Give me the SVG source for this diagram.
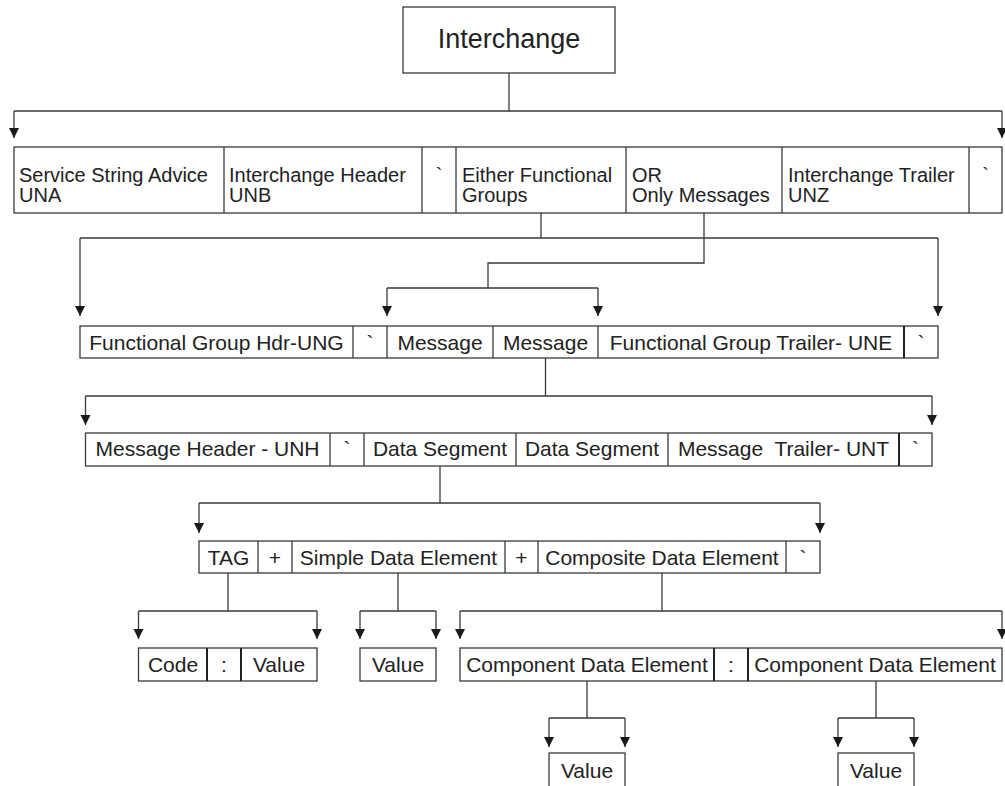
<svg xmlns="http://www.w3.org/2000/svg" width="1005" height="786" viewBox="0 0 1005 786">
<style>
  .box{fill:#fff;stroke:#3a3a3a;stroke-width:1.3}
  .div{stroke:#3a3a3a;stroke-width:1.3}
  .bold{stroke:#222;stroke-width:2}
  .t{font-family:"Liberation Sans",Arial,sans-serif;font-size:21px;fill:#222}
  .r1{font-size:20px}
  .m{text-anchor:middle}
  .big{font-size:27px}
  .c{fill:none;stroke:#3a3a3a;stroke-width:1.3}
  .a{fill:none;stroke:#3a3a3a;stroke-width:1.3;marker-end:url(#arr)}
</style>
<defs>
  <marker id="arr" viewBox="0 0 10 10" refX="10" refY="5" markerWidth="10" markerHeight="11" markerUnits="userSpaceOnUse" orient="auto">
    <path d="M0,0 L10,5 L0,10 z" fill="#1a1a1a"/>
  </marker>
</defs>

<g id="connectors">
  <path class="c" d="M509,73 V111 M14,111 H1002"/>
  <path class="a" d="M14,111 V138"/>
  <path class="a" d="M1002,111 V138"/>

  <path class="c" d="M541,213 V238 M80,238 H938"/>
  <path class="a" d="M80,238 V316"/>
  <path class="a" d="M938,238 V316"/>
  <path class="c" d="M704,213 V263 H488 V288 M387,288 H598"/>
  <path class="a" d="M387,288 V316"/>
  <path class="a" d="M598,288 V316"/>

  <path class="c" d="M545.5,358 V396 M85.5,396 H932"/>
  <path class="a" d="M85.5,396 V425"/>
  <path class="a" d="M932,396 V425"/>

  <path class="c" d="M440,466 V503 M199,503 H820"/>
  <path class="a" d="M199,503 V533"/>
  <path class="a" d="M820,503 V533"/>

  <path class="c" d="M228,573 V611 M138.5,611 H317"/>
  <path class="a" d="M138.5,611 V639"/>
  <path class="a" d="M317,611 V639"/>
  <path class="c" d="M398,573 V611 M360,611 H436"/>
  <path class="a" d="M360,611 V639"/>
  <path class="a" d="M436,611 V639"/>
  <path class="c" d="M662,573 V611 M460,611 H1002"/>
  <path class="a" d="M460,611 V639"/>
  <path class="a" d="M1002,611 V639"/>

  <path class="c" d="M587,681 V718 M549,718 H625"/>
  <path class="a" d="M549,718 V747"/>
  <path class="a" d="M625,718 V747"/>
  <path class="c" d="M876,681 V718 M838,718 H914"/>
  <path class="a" d="M838,718 V747"/>
  <path class="a" d="M914,718 V747"/>
</g>

<g id="interchange">
  <rect class="box" x="403" y="7" width="212" height="66"/>
  <text class="t m big" x="509" y="48">Interchange</text>
</g>

<g id="row-interchange">
  <rect class="box" x="14" y="147" width="988" height="66"/>
  <path class="div" d="M224,147 V213 M422,147 V213 M456,147 V213 M626,147 V213 M782,147 V213 M969,147 V213"/>
  <g id="una"><text class="t r1" x="19" y="182">Service String Advice</text><text class="t r1" x="19" y="202">UNA</text></g>
  <g id="unb"><text class="t r1" x="229" y="182">Interchange Header</text><text class="t r1" x="229" y="202">UNB</text></g>
  <g id="term1"><text class="t r1 m" x="439" y="182">`</text></g>
  <g id="groups"><text class="t r1" x="462" y="182">Either Functional</text><text class="t r1" x="462" y="202">Groups</text></g>
  <g id="messages"><text class="t r1" x="632" y="182">OR</text><text class="t r1" x="632" y="202">Only Messages</text></g>
  <g id="unz"><text class="t r1" x="788" y="182">Interchange Trailer</text><text class="t r1" x="788" y="202">UNZ</text></g>
  <g id="term2"><text class="t r1 m" x="985.5" y="182">`</text></g>
</g>

<g id="row-group">
  <rect class="box" x="80" y="326" width="858" height="32"/>
  <path class="div" d="M353,326 V358 M387,326 V358 M493,326 V358 M598,326 V358"/>
  <path class="bold" d="M904,326 V358"/>
  <g id="ung"><text class="t m" x="216.5" y="350">Functional Group Hdr-UNG</text></g>
  <g id="g-term1"><text class="t m" x="370" y="350">`</text></g>
  <g id="message1"><text class="t m" x="440" y="350">Message</text></g>
  <g id="message2"><text class="t m" x="545.5" y="350">Message</text></g>
  <g id="une"><text class="t m" x="751" y="350">Functional Group Trailer- UNE</text></g>
  <g id="g-term2"><text class="t m" x="921" y="350">`</text></g>
</g>

<g id="row-message">
  <rect class="box" x="85.5" y="433" width="846.5" height="33"/>
  <path class="div" d="M330,433 V466 M364,433 V466 M516,433 V466 M668,433 V466"/>
  <path class="bold" d="M899,433 V466"/>
  <g id="unh"><text class="t m" x="207.5" y="456">Message Header - UNH</text></g>
  <g id="m-term1"><text class="t m" x="347" y="456">`</text></g>
  <g id="segment1"><text class="t m" x="440" y="456">Data Segment</text></g>
  <g id="segment2"><text class="t m" x="592" y="456">Data Segment</text></g>
  <g id="unt"><text class="t m" x="783.5" y="456" xml:space="preserve">Message  Trailer- UNT</text></g>
  <g id="m-term2"><text class="t m" x="915.5" y="456">`</text></g>
</g>

<g id="row-segment">
  <rect class="box" x="199" y="541" width="621" height="32"/>
  <path class="div" d="M258,541 V573 M292,541 V573 M505,541 V573 M538,541 V573 M786,541 V573"/>
  <g id="tag"><text class="t m" x="228.5" y="565">TAG</text></g>
  <g id="plus1"><text class="t m" x="275" y="565">+</text></g>
  <g id="simple"><text class="t m" x="398.5" y="565">Simple Data Element</text></g>
  <g id="plus2"><text class="t m" x="521.5" y="565">+</text></g>
  <g id="composite"><text class="t m" x="662" y="565">Composite Data Element</text></g>
  <g id="s-term"><text class="t m" x="803" y="565">`</text></g>
</g>

<g id="row-tag">
  <rect class="box" x="138.5" y="648" width="178.5" height="33"/>
  <path class="bold" d="M207,648 V681 M241,648 V681"/>
  <g id="code"><text class="t m" x="173" y="672">Code</text></g>
  <g id="colon1"><text class="t m" x="224" y="672">:</text></g>
  <g id="tag-value"><text class="t m" x="279" y="672">Value</text></g>
</g>

<g id="simple-value">
  <rect class="box" x="360" y="648" width="76" height="33"/>
  <text class="t m" x="398" y="672">Value</text>
</g>

<g id="row-component">
  <rect class="box" x="460" y="648" width="542" height="33"/>
  <path class="bold" d="M714,648 V681 M748,648 V681"/>
  <g id="component1"><text class="t m" x="587" y="672">Component Data Element</text></g>
  <g id="colon2"><text class="t m" x="731" y="672">:</text></g>
  <g id="component2"><text class="t m" x="875" y="672">Component Data Element</text></g>
</g>

<g id="component1-value">
  <rect class="box" x="549" y="753" width="76" height="40"/>
  <text class="t m" x="587" y="778">Value</text>
</g>
<g id="component2-value">
  <rect class="box" x="838" y="753" width="76" height="40"/>
  <text class="t m" x="876" y="778">Value</text>
</g>
</svg>
